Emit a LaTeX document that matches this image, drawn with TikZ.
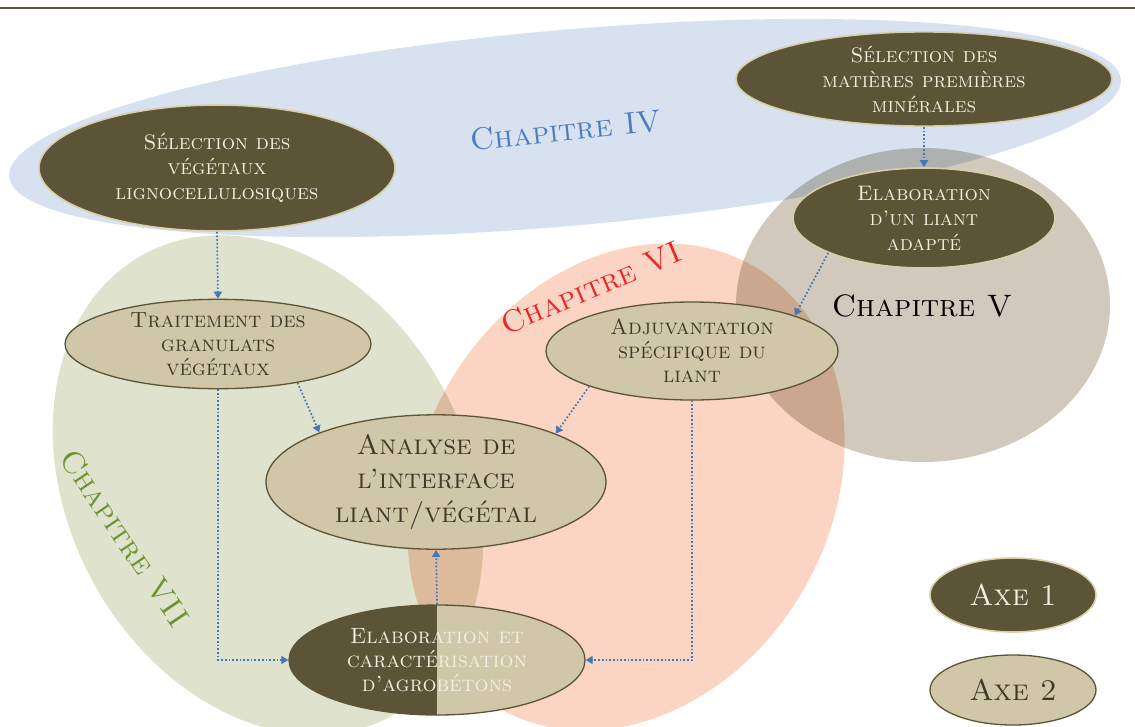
\documentclass[tikz,border=0pt]{standalone}
\usepackage{fontspec}
\usetikzlibrary{shapes.geometric,arrows.meta}
\definecolor{olive}{HTML}{5B5436}
\definecolor{rim}{HTML}{D8CFAA}
\definecolor{sand}{HTML}{CFC7A8}
\definecolor{cream}{HTML}{F2EEE2}
\definecolor{ink}{HTML}{3E3A27}
\definecolor{flowblue}{HTML}{4477B3}
\definecolor{zoneblue}{HTML}{D7E1F0}
\definecolor{zonegreen}{HTML}{DFE2CC}
\definecolor{zonesalmon}{HTML}{FBD4C3}
\definecolor{zonegrey}{HTML}{D0C9BC}
\definecolor{chapblue}{HTML}{4E7DBE}
\definecolor{chapred}{HTML}{E8262A}
\definecolor{chapgreen}{HTML}{6E9332}

\begin{document}
\begin{tikzpicture}[x=1pt,y=-1pt,
    axeone/.style={ellipse,draw=rim,line width=1.6pt,fill=olive,text=cream,align=center,inner sep=0pt,
      font=\fontsize{21}{25}\selectfont\scshape},
    axetwo/.style={ellipse,draw=olive,line width=1.3pt,fill=sand,text=ink,align=center,inner sep=0pt,
      font=\fontsize{22}{24}\selectfont\scshape},
    flow/.style={draw=flowblue,line width=1.7pt,dash pattern=on 1.7pt off 2pt,
      -{Triangle[width=8pt,length=7pt]}},
    chap/.style={font=\fontsize{31}{32}\selectfont\scshape}]
  \useasboundingbox (0,0) rectangle (1135,726);
  % top rule
  \draw[olive,line width=2pt] (0,8) -- (1135,8);
  % chapter zones
  \begin{scope}[blend mode=multiply]
    \fill[zoneblue,rotate around={5:(565,128)}] (565,128) ellipse [x radius=558pt,y radius=98pt];
    \fill[zonegrey] (923,305) ellipse [x radius=187pt,y radius=157pt];
    \fill[zonegreen,rotate around={-62:(268,485)}] (268,485) ellipse [x radius=262pt,y radius=200pt];
    \fill[zonesalmon,rotate around={60:(626,487)}] (626,487) ellipse [x radius=255pt,y radius=205pt];
  \end{scope}
  \node[chap,text=chapblue,rotate=6] (chapiv) at (566,130) {Chapitre IV};
  \node[chap,text=chapred,rotate=23] (chapvi) at (591,288) {Chapitre VI};
  \node[chap,text=black] (chapv) at (922,306) {Chapitre V};
  \node[chap,text=chapgreen,rotate=-56] (chapvii) at (125,538) {Chapitre VII};
  % axe 1
  \node[axeone,minimum width=356pt,minimum height=126pt] (selveg) at (217,168) {Sélection des\\végétaux\\lignocellulosiques};
  \node[axeone,minimum width=376pt,minimum height=90pt] (selmin) at (924,79) {Sélection des\\matières premières\\minérales};
  \node[axeone,minimum width=262pt,minimum height=100pt] (liant) at (924,218) {Elaboration\\d’un liant\\adapté};
  % axe 2
  \node[axetwo,minimum width=306pt,minimum height=88pt] (traitement) at (218,344) {Traitement des\\granulats\\végétaux};
  \node[axetwo,minimum width=292pt,minimum height=98pt] (adjuv) at (692,351) {Adjuvantation\\spécifique du\\liant};
  \node[axetwo,minimum width=340pt,minimum height=134pt,font=\fontsize{28}{34}\selectfont\scshape] (analyse) at (436,482) {Analyse de\\l’interface\\liant/végétal};
  \node[axetwo,text=cream,minimum width=296pt,minimum height=110pt,
    path picture={\fill[olive] (path picture bounding box.south west) rectangle (path picture bounding box.north);}]
    (agro) at (437,660) {Elaboration et\\caractérisation\\d’agrobétons};
  % legend
  \node[axeone,minimum width=166pt,minimum height=74pt,font=\fontsize{30}{32}\selectfont\scshape] (axei) at (1013,595) {Axe 1};
  \node[axetwo,minimum width=166pt,minimum height=70pt,font=\fontsize{30}{32}\selectfont\scshape] (axeii) at (1013,690) {Axe 2};
  % links
  \draw[flow] (selveg.south) -- (traitement.north);
  \draw[flow] (selmin.south) -- (liant.north);
  \draw[flow] (liant.200) -- (adjuv.19);
  \draw[flow] (traitement.334) -- (analyse.157);
  \draw[flow] (adjuv.199) -- (analyse.22);
  \draw[flow] (traitement.south) |- (agro.west);
  \draw[flow] (adjuv.south) |- (agro.east);
  \draw[flow] (agro.north) -- (analyse.south);
\end{tikzpicture}
\end{document}
